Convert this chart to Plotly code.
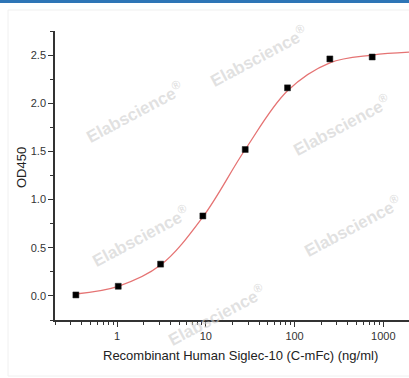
import plotly.graph_objects as go

# Measured points
conc = [0.343, 1.03, 3.09, 9.26, 27.8, 83.3, 250, 750]
od450 = [0.01, 0.10, 0.33, 0.83, 1.52, 2.16, 2.46, 2.48]

# Fitted curve
curve_x = [0.343, 1.03, 3.09, 9.26, 27.8, 83.3, 250, 750, 1950]
curve_y = [0.02, 0.10, 0.32, 0.82, 1.52, 2.13, 2.42, 2.50, 2.53]

y_ticks = [0.0, 0.5, 1.0, 1.5, 2.0, 2.5]
y_tick_labels = ["0.0", "0.5", "1.0", "1.5", "2.0", "2.5"]
x_ticks = [1, 10, 100, 1000]
x_tick_labels = ["1", "10", "100", "1000"]

W, H = 409, 378
L, R, T, B = 55, 0, 31, 58
PW, PH = W - L - R, H - T - B

def px2paper(px, py):
    return (px - L) / PW, (H - B - py) / PH

fig = go.Figure()
fig.add_trace(go.Scatter(
    x=curve_x, y=curve_y, mode="lines",
    line=dict(color="#e57373", width=1.3, shape="spline", smoothing=1.0),
    hoverinfo="skip", showlegend=False, cliponaxis=False))
fig.add_trace(go.Scatter(
    x=conc, y=od450, mode="markers",
    marker=dict(symbol="square", size=6, color="black",
                line=dict(color="#222", width=0.5)),
    showlegend=False))

axis_color = "#333333"
fig.update_layout(
    width=W, height=H,
    margin=dict(l=L, r=R, t=T, b=B, autoexpand=False),
    paper_bgcolor="white", plot_bgcolor="white",
    font=dict(family="Liberation Sans, Arial, sans-serif", color="#333333", size=11),
    xaxis=dict(
        type="log", range=[-0.70, 3.29], automargin=False,
        tickvals=x_ticks, ticktext=x_tick_labels,
        showgrid=False, zeroline=False,
        showline=True, linecolor=axis_color, linewidth=1.5,
        ticks="outside", ticklen=5, tickwidth=1, tickcolor=axis_color,
        minor=dict(ticks="outside", ticklen=3, tickwidth=1, tickcolor=axis_color,
                   dtick="D1", showgrid=False),
        tickfont=dict(size=11),
    ),
    yaxis=dict(
        range=[-0.25, 2.75], automargin=False,
        tickvals=y_ticks, ticktext=y_tick_labels,
        showgrid=False, zeroline=False,
        showline=True, linecolor=axis_color, linewidth=1.5,
        ticks="outside", ticklen=5, tickwidth=1, tickcolor=axis_color,
        minor=dict(ticks="outside", ticklen=3, tickwidth=1, tickcolor=axis_color,
                   dtick=0.25, showgrid=False),
        tickfont=dict(size=11),
    ),
)

# axis titles
tx, ty = px2paper(240, 355)
fig.add_annotation(xref="paper", yref="paper", x=tx, y=ty, showarrow=False,
                   xanchor="center", yanchor="middle",
                   text="Recombinant Human Siglec-10 (C-mFc) (ng/ml)",
                   font=dict(size=13, color="#222"))
tx, ty = px2paper(21, 168)
fig.add_annotation(xref="paper", yref="paper", x=tx, y=ty, showarrow=False,
                   xanchor="center", yanchor="middle", textangle=-90,
                   text="OD450", font=dict(size=13, color="#222"))

# top blue bar and faint panel border
x0, y1 = px2paper(0, 0)
x1, y0 = px2paper(W, 3)
fig.add_shape(type="rect", xref="paper", yref="paper", x0=x0, x1=x1, y0=y0, y1=y1,
              fillcolor="#2e75b6", line=dict(width=0), layer="above")
bx0, by1 = px2paper(8, 10)
bx1, by0 = px2paper(W + 5, 376)
fig.add_shape(type="rect", xref="paper", yref="paper", x0=bx0, x1=bx1, y0=by0, y1=by1,
              fillcolor="rgba(0,0,0,0)", line=dict(color="#f0f0f0", width=1), layer="below")

# watermarks (pixel centres)
marks = [(134, 112), (258, 56), (341, 125), (140, 236), (352, 226), (216, 315)]
for (px, py) in marks:
    ax_, ay_ = px2paper(px, py)
    fig.add_annotation(
        xref="paper", yref="paper", x=ax_, y=ay_,
        xanchor="center", yanchor="middle",
        text="Elabscience<sup>®</sup>", showarrow=False, textangle=-28,
        font=dict(size=17, color="rgba(205,205,205,0.6)",
                  family="Liberation Sans, Arial, sans-serif", weight="bold"),
    )

fig.write_html("out.html", config={"displayModeBar": False},
               post_script="document.body.style.margin='0px';")
